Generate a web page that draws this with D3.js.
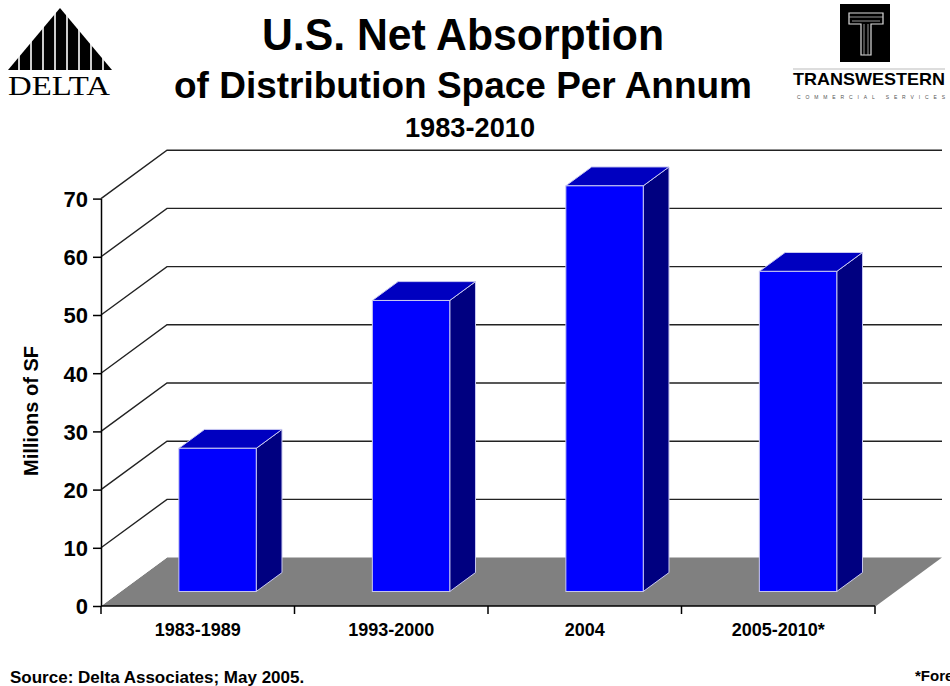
<!DOCTYPE html>
<html><head><meta charset="utf-8">
<script src="https://cdn.jsdelivr.net/npm/d3@7"></script>
<style>
html,body{margin:0;padding:0;background:#fff;}
svg{display:block;font-family:"Liberation Sans",Arial,sans-serif;}
</style></head>
<body>
<svg id="chart" width="950" height="686"></svg>
<script>
// ---- data ----
const categories = ["1983-1989", "1993-2000", "2004", "2005-2010*"];
const values = [24.6, 50, 69.7, 55];
const yTicks = [0, 10, 20, 30, 40, 50, 60, 70];
const titleLines = ["U.S. Net Absorption", "of Distribution Space Per Annum", "1983-2010"];
const yAxisTitle = "Millions of SF";
const sourceNote = "Source: Delta Associates; May 2005.";
const forecastNote = "*Forecast";

const svg = d3.select("#chart");

// ---- layout ----
const x0 = 101, x1 = 875, yBase = 606, yTop = 198.6;
const depthX = 66, depthY = -48.4;
const f0 = 0.30, f1 = 0.69;

const x = d3.scaleBand().domain(categories).range([x0, x1]).paddingInner(0.6).paddingOuter(0.3);
const y = d3.scaleLinear().domain([0, 70]).range([yBase, yTop]);

// ---- titles ----
const tg = svg.append("g").attr("text-anchor", "middle").attr("font-weight", "bold").attr("fill", "#000");
tg.append("text").attr("x", 463).attr("y", 50).attr("font-size", 44)
  .attr("textLength", 402).attr("lengthAdjust", "spacingAndGlyphs").text(titleLines[0]);
tg.append("text").attr("x", 463).attr("y", 98).attr("font-size", 37)
  .attr("textLength", 578).attr("lengthAdjust", "spacingAndGlyphs").text(titleLines[1]);
tg.append("text").attr("x", 470).attr("y", 137).attr("font-size", 27)
  .attr("textLength", 130).attr("lengthAdjust", "spacingAndGlyphs").text(titleLines[2]);

// ---- floor ----
svg.append("path")
  .attr("d", `M${x0},${y(0)} L${x1 + 1},${y(0)} L${x1 + 1 + depthX},${y(0) + depthY} L${x0 + depthX},${y(0) + depthY} Z`)
  .attr("fill", "#808080");
svg.append("line").attr("x1", x0 + 1).attr("y1", y(0) - 1).attr("x2", x0 + depthX).attr("y2", y(0) + depthY - 0.5)
  .attr("stroke", "#fff").attr("stroke-width", 1);

// ---- gridlines (side wall + back wall) ----
const grid = svg.append("g").attr("fill", "none").attr("stroke", "#222").attr("stroke-width", 1.4);
yTicks.filter(v => v > 0).forEach(v => {
  grid.append("path").attr("d",
    `M${x0},${y(v)} L${x0 + depthX},${y(v) + depthY} L${x1 + 1 + depthX},${y(v) + depthY}`);
});

// ---- bars ----
const bars = svg.append("g").selectAll("g").data(categories).join("g");
bars.each(function (c, i) {
  const g = d3.select(this);
  const v = values[i];
  const bx = x(c) + f0 * depthX;
  const bw = x.bandwidth();
  const by0 = y(0) + f0 * depthY;
  const byT = y(v) + f0 * depthY;
  const ddx = (f1 - f0) * depthX, ddy = (f1 - f0) * depthY;
  const st = "#c8c8f0";
  g.append("path").attr("d",
    `M${bx + bw},${byT} L${bx + bw + ddx},${byT + ddy} L${bx + bw + ddx},${by0 + ddy} L${bx + bw},${by0} Z`)
    .attr("fill", "#000080").attr("stroke", st).attr("stroke-width", 1).attr("stroke-linejoin", "round");
  g.append("path").attr("d",
    `M${bx},${byT} L${bx + ddx},${byT + ddy} L${bx + bw + ddx},${byT + ddy} L${bx + bw},${byT} Z`)
    .attr("fill", "#0000C0").attr("stroke", st).attr("stroke-width", 1).attr("stroke-linejoin", "round");
  g.append("rect").attr("x", bx).attr("y", byT).attr("width", bw).attr("height", by0 - byT)
    .attr("fill", "#0000FF").attr("stroke", st).attr("stroke-width", 1);
});

// ---- y axis ----
const yAxis = svg.append("g").attr("transform", `translate(${x0},0)`)
  .call(d3.axisLeft(y).tickValues(yTicks).tickSize(8).tickPadding(5).tickSizeOuter(0));
yAxis.select(".domain").attr("stroke", "#000").attr("stroke-width", 1.5);
yAxis.selectAll(".tick line").attr("stroke", "#000").attr("stroke-width", 1.5);
yAxis.selectAll(".tick text").attr("font-size", 22).attr("font-weight", "bold")
  .attr("font-family", "Liberation Sans, Arial, sans-serif").attr("fill", "#000").attr("dy", "0.36em");

// ---- x axis ----
svg.append("line").attr("x1", x0).attr("x2", x1).attr("y1", y(0)).attr("y2", y(0))
  .attr("stroke", "#000").attr("stroke-width", 1.5);
const bounds = categories.map(c => x(c) - x.step() * 0.3).concat([x1]);
svg.append("g").selectAll("line").data(bounds).join("line")
  .attr("x1", d => d).attr("x2", d => d).attr("y1", y(0)).attr("y2", y(0) + 8)
  .attr("stroke", "#000").attr("stroke-width", 1.5);
svg.append("g").selectAll("text").data(categories).join("text")
  .attr("x", d => x(d) + x.bandwidth() / 2).attr("y", 636)
  .attr("text-anchor", "middle").attr("font-size", 18).attr("font-weight", "bold").text(d => d);

// ---- y axis title ----
svg.append("text").attr("transform", "translate(38,411) rotate(-90)")
  .attr("text-anchor", "middle").attr("font-size", 20).attr("font-weight", "bold").text(yAxisTitle);

// ---- footer ----
svg.append("text").attr("x", 10).attr("y", 683).attr("font-size", 17).attr("font-weight", "bold").text(sourceNote);
svg.append("text").attr("x", 915).attr("y", 681).attr("font-size", 15).attr("font-weight", "bold").text(forecastNote);

// ---- Delta logo ----
const dl = svg.append("g");
dl.append("path").attr("d", "M60,8 L112,70 L8,70 Z").attr("fill", "#000");
[19, 31, 43, 55, 67, 79, 91, 103].forEach(sx => {
  dl.append("line").attr("x1", sx).attr("x2", sx).attr("y1", 0).attr("y2", 71)
    .attr("stroke", "#fff").attr("stroke-width", 1.6);
});
dl.append("text").attr("x", 8).attr("y", 95).attr("font-family", "Liberation Serif, Times New Roman, serif")
  .attr("font-size", 28).attr("textLength", 102).attr("lengthAdjust", "spacingAndGlyphs").text("DELTA");

// ---- Transwestern logo ----
const tl = svg.append("g");
tl.append("rect").attr("x", 840).attr("y", 4).attr("width", 50).attr("height", 58).attr("fill", "#000");
tl.append("path").attr("d", "M849,13 L883,13 L883,24 L871,24 L871,55 L861,55 L861,24 L849,24 Z")
  .attr("fill", "none").attr("stroke", "#ddd").attr("stroke-width", 1.2);
tl.append("path").attr("d", "M849,17 L883,17 M852,21 L880,21 M864,24 L864,55 M868,24 L868,55")
  .attr("fill", "none").attr("stroke", "#bbb").attr("stroke-width", 0.8);
tl.append("line").attr("x1", 793).attr("x2", 945).attr("y1", 69).attr("y2", 69).attr("stroke", "#bbb").attr("stroke-width", 1);
tl.append("text").attr("x", 793).attr("y", 85).attr("font-size", 17).attr("font-weight", "bold")
  .attr("textLength", 152).attr("lengthAdjust", "spacingAndGlyphs").text("TRANSWESTERN");
tl.append("text").attr("x", 797).attr("y", 99).attr("font-size", 5).attr("fill", "#555")
  .attr("textLength", 148).attr("lengthAdjust", "spacing").text("COMMERCIAL SERVICES");
</script>
</body></html>
